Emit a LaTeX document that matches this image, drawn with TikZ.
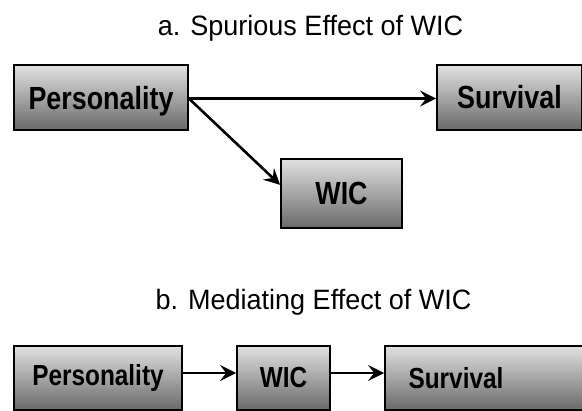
\documentclass[tikz,border=0pt]{standalone}
\usepackage{fontspec}
\setmainfont{Liberation Sans}
\newfontfamily\boxfont[FakeStretch=0.84]{Liberation Sans}
\newfontfamily\titlefont[FakeStretch=0.965]{Liberation Sans}
\usetikzlibrary{arrows.meta}
\definecolor{boxtop}{RGB}{225,225,225}
\definecolor{boxbot}{RGB}{105,105,105}
\begin{document}
\begin{tikzpicture}[x=1pt,y=1pt,
  box/.style={draw=black, line width=1.8pt, top color=boxtop, bottom color=boxbot,
    minimum height=65pt, inner sep=0pt, font=\boxfont\bfseries\fontsize{32}{36}\selectfont},
  boxb/.style={box, minimum height=64pt, font=\boxfont\bfseries\fontsize{29}{33}\selectfont},
  conn/.style={line width=2.6pt, -{Stealth[length=16pt,width=16pt,inset=6pt]}},
  ttl/.style={font=\titlefont\fontsize{28}{32}\selectfont, anchor=base, inner sep=0pt}]
\useasboundingbox (0,0) rectangle (582,411);
\node[ttl] (ta) at (310.5,375) {a. Spurious Effect of WIC};
\node[box, minimum width=174pt, text depth=0pt] (pA) at (101,313.5) {Personality};
\node[box, minimum width=145pt] (sA) at (509.5,313.5) {Survival};
\node[box, minimum width=121pt, minimum height=69pt] (wA) at (341.5,217.5) {WIC};
\draw[conn] ([yshift=-1pt]pA.east) -- ([yshift=-1pt]sA.west);
\draw[conn] ([yshift=-1pt]pA.east) -- (wA.172);
\node[ttl] (tb) at (313.5,101) {b. Mediating Effect of WIC};
\node[boxb, minimum width=168pt] (pB) at (98,33) {Personality};
\node[boxb, minimum width=93pt] (wB) at (283.5,33) {WIC};
\node[boxb, minimum width=200pt] (sB) at (485,33) {Survival\hspace*{58pt}};
\draw[conn] ([yshift=5pt]pB.east) -- ([yshift=5pt]wB.west);
\draw[conn] ([yshift=5pt]wB.east) -- ([yshift=5pt]sB.west);
\end{tikzpicture}
\end{document}
